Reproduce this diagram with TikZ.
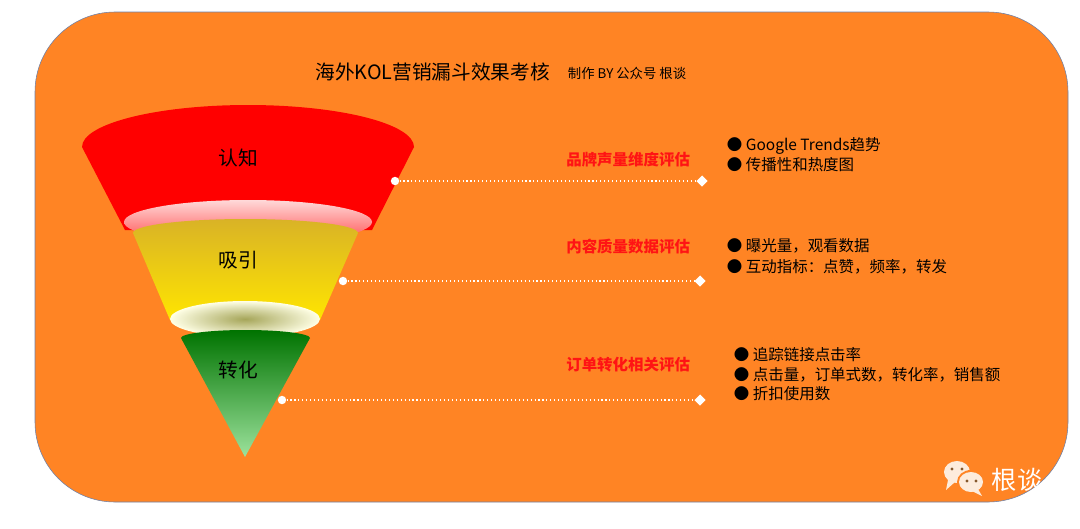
\documentclass[tikz,border=0pt]{standalone}
\usepackage{fontspec}
\setmainfont{Noto Sans CJK SC}
\usetikzlibrary{shapes.geometric}
\definecolor{bgorange}{RGB}{255,132,36}
\definecolor{frameblue}{RGB}{110,130,170}
\definecolor{labelred}{RGB}{255,20,20}
\definecolor{iconcream}{RGB}{253,236,220}

\begin{document}
\begin{tikzpicture}[
    x=0.025cm, y=-0.025cm,
    stage/.style={font=\fontsize{14}{16}\selectfont, text=black},
    measure/.style={anchor=east, font=\fontsize{11}{13}\selectfont\bfseries, text=labelred},
    bullet/.style={anchor=west, font=\fontsize{11}{13}\selectfont, text=black},
    dot/.style={circle, fill=white, inner sep=0pt, minimum size=6pt},
    tip/.style={diamond, fill=white, inner sep=0pt, minimum size=8pt},
    leader/.style={white, thick, dotted}
]

% Background
\useasboundingbox (0,0) rectangle (1080,528);
\fill[white] (0,0) rectangle (1080,528);
\draw[frameblue, fill=bgorange, rounded corners=2cm] (35,12) rectangle (1068,502);

% Title
\node[font=\fontsize{14}{16}\selectfont, anchor=east] (title) at (555,72) {海外KOL营销漏斗效果考核};
\node[font=\fontsize{9.5}{11}\selectfont, anchor=west] (credit) at (563,73) {制作 BY 公众号 根谈};

% Funnel
\fill[red] (82,147) arc[start angle=180, end angle=360, x radius=166, y radius=42] -- (372,230) -- (125,230) -- cycle;
\shade[top color=white!85!red, bottom color=red!70!white] (248,222) ellipse[x radius=124, y radius=22];
\shade[top color=yellow!40!brown, bottom color=yellow!80!orange] (133,233) arc[start angle=180, end angle=360, x radius=112.5, y radius=14] -- (320,320) -- (170,320) -- cycle;
\shade[inner color=gray!70!yellow, outer color=yellow!10!white] (245,319) ellipse[x radius=75, y radius=18];
\shade[top color=green!45!black, bottom color=green!55!gray!50!white] (181,338) arc[start angle=180, end angle=360, x radius=64.5, y radius=8] -- (245,457) -- cycle;

\node[stage] (aware) at (238,158) {认知};
\node[stage] (attract) at (238,260) {吸引};
\node[stage] (convert) at (238,370) {转化};

% Leaders
\node[dot] (d1) at (395,181) {};
\node[dot] (d2) at (343,281) {};
\node[dot] (d3) at (282,400) {};
\node[tip] (t1) at (702,181) {};
\node[tip] (t2) at (700,281) {};
\node[tip] (t3) at (700,400) {};
\draw[leader] (d1) -- (t1);
\draw[leader] (d2) -- (t2);
\draw[leader] (d3) -- (t3);

% Measures
\node[measure] (m1) at (695,160) {品牌声量维度评估};
\node[measure] (m2) at (695,247) {内容质量数据评估};
\node[measure] (m3) at (695,365) {订单转化相关评估};

\node[bullet] (b11) at (722,146) {● Google Trends趋势};
\node[bullet] (b12) at (722,165) {● 传播性和热度图};
\node[bullet] (b21) at (722,246) {● 曝光量，观看数据};
\node[bullet] (b22) at (722,267) {● 互动指标：点赞，频率，转发};
\node[bullet] (b31) at (729,355) {● 追踪链接点击率};
\node[bullet] (b32) at (729,375) {● 点击量，订单式数，转化率，销售额};
\node[bullet] (b33) at (729,394) {● 折扣使用数};

% Watermark
\fill[iconcream] (957,472) ellipse[x radius=13, y radius=11];
\fill[iconcream] (948,480) -- (946,490) -- (955,482) -- cycle;
\fill[bgorange] (971,482) ellipse[x radius=14, y radius=12];
\fill[iconcream] (971,482) ellipse[x radius=12, y radius=10];
\fill[iconcream] (978,489) -- (982,496) -- (972,491) -- cycle;
\foreach \px/\py in {952/469, 962/469, 967/481, 976/481}
  \fill[brown!70!black] (\px,\py) circle[radius=1.6];
\node[font=\fontsize{18}{20}\selectfont, text=white] (brand) at (1017,480) {根谈};

\end{tikzpicture}
\end{document}
